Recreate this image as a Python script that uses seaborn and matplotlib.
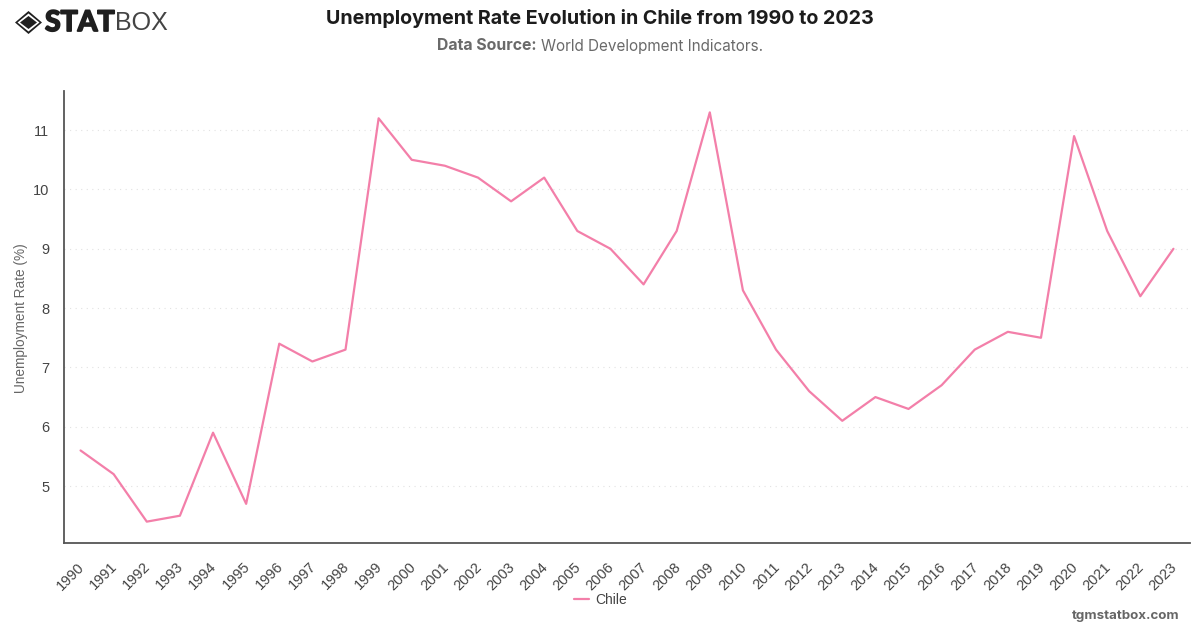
import matplotlib
matplotlib.use("Agg")
import matplotlib.pyplot as plt
import matplotlib.patheffects as pe
from matplotlib.patches import Polygon
from matplotlib.transforms import ScaledTranslation
import pandas as pd
import seaborn as sns

years = list(range(1990, 2024))
unemployment = [5.6, 5.2, 4.4, 4.5, 5.9, 4.7, 7.4, 7.1, 7.3, 11.2, 10.5, 10.4, 10.2, 9.8, 10.2, 9.3, 9.0,
                8.4, 9.3, 11.3, 8.3, 7.3, 6.6, 6.1, 6.5, 6.3, 6.7, 7.3, 7.6, 7.5, 10.9, 9.3, 8.2, 9.0]
y_ticks = [5, 6, 7, 8, 9, 10, 11]
country = "Chile"
title = "Unemployment Rate Evolution in Chile from 1990 to 2023"

W, H = 1200, 628
sns.set_theme(style="white")
plt.rcParams["font.family"] = ["Liberation Sans", "DejaVu Sans"]

fig = plt.figure(figsize=(W / 100, H / 100), dpi=100, facecolor="white")
ax = fig.add_axes([64 / W, 1 - 543 / H, 1126 / W, 452 / H])

frame = pd.DataFrame({"year": [str(y) for y in years], "rate": unemployment, "country": country})
sns.lineplot(data=frame, x="year", y="rate", hue="country", palette=["#f37fa9"], linewidth=1.6,
             ax=ax, legend=False, sort=False)

ax.set_xlim(-0.5, len(years) - 0.5)
ax.set_ylim(4.04, 11.66)
ax.set_yticks(y_ticks)
ax.set_yticklabels([str(v) for v in y_ticks])
ax.set_xticks(range(len(years)))
ax.set_xticklabels([str(y) for y in years], rotation=45, ha="right", rotation_mode="anchor")
ax.tick_params(axis="x", length=0, pad=12, labelsize=10.5, labelcolor="#444444")
ax.tick_params(axis="y", length=0, pad=10.5, labelsize=10.5, labelcolor="#444444")
ax.set_xlabel("")
ax.set_ylabel("")

# Nudge the slanted year labels so they end just under their data column
nudge = ScaledTranslation(-3.5 / 100, 0, fig.dpi_scale_trans)
for label in ax.get_xticklabels():
    label.set_transform(label.get_transform() + nudge)

fig.text(21.5 / W, 1 - 318 / H, "Unemployment Rate (%)", rotation=90, ha="center", va="center",
         fontsize=9.8, color="#666666")

ax.grid(axis="y", linestyle=(0, (1, 4)), linewidth=0.8, color="#e2e2e2")
ax.grid(axis="x", visible=False)
ax.set_axisbelow(True)
for side in ("top", "right"):
    ax.spines[side].set_visible(False)
for side in ("left", "bottom"):
    ax.spines[side].set_color("#555555")
    ax.spines[side].set_linewidth(1.3)

# Legend below the axes
handle = ax.plot([], [], color="#f37fa9", linewidth=1.6, label=country)[0]
fig.legend(handles=[handle], loc="center", bbox_to_anchor=(600 / W, 1 - 600 / H), frameon=False,
           fontsize=10, labelcolor="#444444", handlelength=1.15, handletextpad=0.38)


def px(x, y):
    return x / W, 1 - y / H


# Header texts
fig.text(*px(600, 18), title, ha="center", va="center", fontsize=14.2, fontweight="bold",
         family=["Inter", "DejaVu Sans"], color="#1c1c1c")
fig.text(*px(437, 46), "Data Source:", ha="left", va="center", fontsize=11.4, fontweight="bold",
         family=["Inter", "DejaVu Sans"], color="#6a6a6a")
fig.text(*px(541, 46), "World Development Indicators.", ha="left", va="center", fontsize=11,
         family=["Inter", "DejaVu Sans"], color="#6a6a6a")
fig.text(*px(1180, 616), "tgmstatbox.com", ha="right", va="center", fontsize=9.6, fontweight="bold",
         family=["Inter", "DejaVu Sans"], color="#666666")

# Brand mark: nested diamonds and wordmark
dark = "#1f1f1f"
cx, cy = 28.5, 22.5
for half_w, half_h, color in ((13.5, 11.5, dark), (11, 9, "white"), (8.5, 6.5, dark)):
    pts = [px(cx, cy - half_h), px(cx + half_w, cy), px(cx, cy + half_h), px(cx - half_w, cy)]
    fig.add_artist(Polygon(pts, closed=True, transform=fig.transFigure, facecolor=color, edgecolor="none"))
fig.text(*px(45, 23), "STAT", ha="left", va="center", fontsize=20.5, fontweight="bold",
         family=["Lato", "DejaVu Sans"], color=dark,
         path_effects=[pe.withStroke(linewidth=1.3, foreground=dark)])
fig.text(*px(115, 23), "BOX", ha="left", va="center", fontsize=18,
         family=["Liberation Sans", "DejaVu Sans"], color="#444444")

fig.savefig("out.png", dpi=100, facecolor="white")
